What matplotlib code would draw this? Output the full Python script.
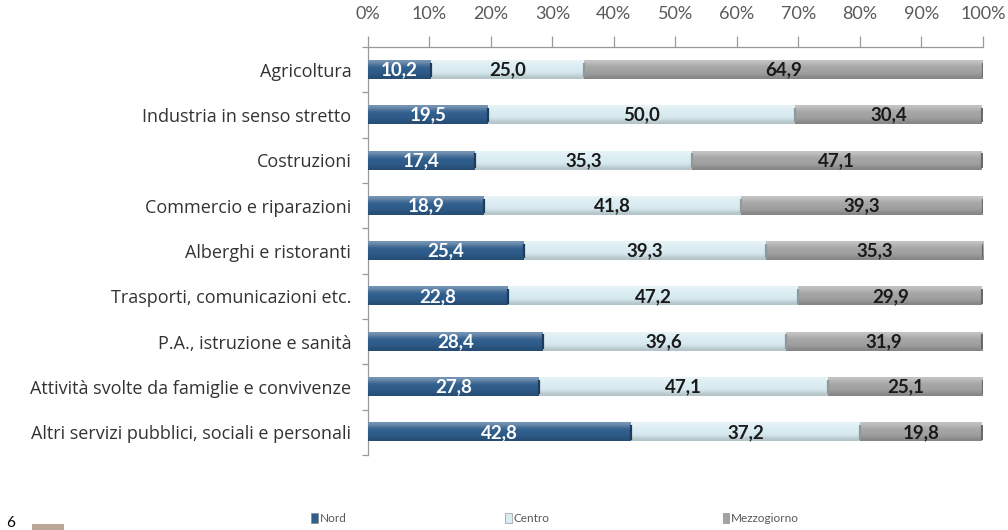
import numpy as np
import matplotlib
matplotlib.use("Agg")
import matplotlib.pyplot as plt
from matplotlib.colors import to_rgb
from matplotlib.patches import Rectangle

plt.rcParams['font.family'] = ['Lato', 'DejaVu Sans']

categories = [
    "Agricoltura",
    "Industria in senso stretto",
    "Costruzioni",
    "Commercio e riparazioni",
    "Alberghi e ristoranti",
    "Trasporti, comunicazioni etc.",
    "P.A., istruzione e sanità",
    "Attività svolte da famiglie e convivenze",
    "Altri servizi pubblici, sociali e personali",
]
nord = [10.2, 19.5, 17.4, 18.9, 25.4, 22.8, 28.4, 27.8, 42.8]
centro = [25.0, 50.0, 35.3, 41.8, 39.3, 47.2, 39.6, 47.1, 37.2]
mezzogiorno = [64.9, 30.4, 47.1, 39.3, 35.3, 29.9, 31.9, 25.1, 19.8]
series_names = ["Nord", "Centro", "Mezzogiorno"]
xticks = [0, 10, 20, 30, 40, 50, 60, 70, 80, 90, 100]

base_colors = ["#2F5D8C", "#D9ECF2", "#A3A3A3"]
text_colors = ["white", "#1a1a1a", "#1a1a1a"]

fig = plt.figure(figsize=(10.08, 5.30), dpi=100)
ax = fig.add_axes([0.365, 0.1415, 0.61, 0.7695])

y = np.arange(len(categories))
bar_h = 0.4


def shade(color, f):
    r, g, b = to_rgb(color)
    if f >= 0:
        return (r + (1 - r) * f, g + (1 - g) * f, b + (1 - b) * f)
    return (r * (1 + f), g * (1 + f), b * (1 + f))


def gradient_cmap(color):
    # top highlight, body, darker lower edge
    stops = [0.35, 0.15, 0.0, 0.0, -0.05, -0.18]
    return np.array([shade(color, s) for s in stops])[:, None, :]


left = np.zeros(len(categories))
for vals, col, tcol in zip([nord, centro, mezzogiorno], base_colors, text_colors):
    vals = np.asarray(vals)
    bars = ax.barh(y, vals, left=left, height=bar_h, color=col,
                   edgecolor="none", zorder=2)
    grad = gradient_cmap(col)
    for b in bars:
        x0, y0 = b.get_x(), b.get_y()
        w, h = b.get_width(), b.get_height()
        ax.imshow(grad, extent=(x0, x0 + w, y0 + h, y0), aspect="auto",
                  interpolation="bicubic", zorder=3)
        # darker cap at the segment end
        ax.plot([x0 + w, x0 + w], [y0 + 0.04, y0 + h - 0.04],
                color=shade(col, -0.35), lw=1.6, zorder=4,
                solid_capstyle="butt")
    for yi, l, v in zip(y, left, vals):
        ax.text(l + v / 2, yi, f"{v:.1f}".replace(".", ","),
                ha="center", va="center", fontsize=13.5, fontweight="bold",
                color=tcol, zorder=5)
    left = left + vals

ax.set_xlim(0, 100)
ax.set_ylim(len(categories) - 0.5, -0.5)

ax.xaxis.tick_top()
ax.set_xticks(xticks)
ax.set_xticklabels([f"{t}%" for t in xticks], fontsize=13, color="#595959")
ax.tick_params(axis="x", direction="out", length=8, color="#9a9a9a",
               width=0.9, pad=10)

ax.set_yticks(y)
ax.set_yticklabels(categories, fontsize=13, color="#333333",
                   family=["Open Sans", "DejaVu Sans"])
ax.tick_params(axis="y", which="major", length=0, pad=12)
ax.set_yticks(np.arange(len(categories) + 1) - 0.5, minor=True)
ax.tick_params(axis="y", which="minor", length=4, color="#9a9a9a", width=0.9)

for s in ["right", "bottom"]:
    ax.spines[s].set_visible(False)
ax.spines["top"].set_color("#9a9a9a")
ax.spines["left"].set_color("#9a9a9a")
ax.spines["top"].set_linewidth(0.9)
ax.spines["left"].set_linewidth(0.9)

# legend row along the bottom
legend_x = [0.309, 0.501, 0.717]
legend_y = 0.022
for lx, name, col in zip(legend_x, series_names, base_colors):
    fig.patches.append(Rectangle((lx, legend_y - 0.008), 0.0065, 0.018,
                                 transform=fig.transFigure,
                                 facecolor=col, edgecolor="#7f7f7f",
                                 linewidth=0.4))
    fig.text(lx + 0.0085, legend_y, name, fontsize=8.5, color="#595959",
             va="center", ha="left")

# page number and margin mark at the bottom-left corner
fig.text(0.006, 0.0, "6", fontsize=11, color="black", va="bottom")
fig.patches.append(Rectangle((0.032, 0.0), 0.031, 0.012,
                             transform=fig.transFigure,
                             facecolor="#BBA698", edgecolor="none"))

fig.savefig("out.png", dpi=100)
